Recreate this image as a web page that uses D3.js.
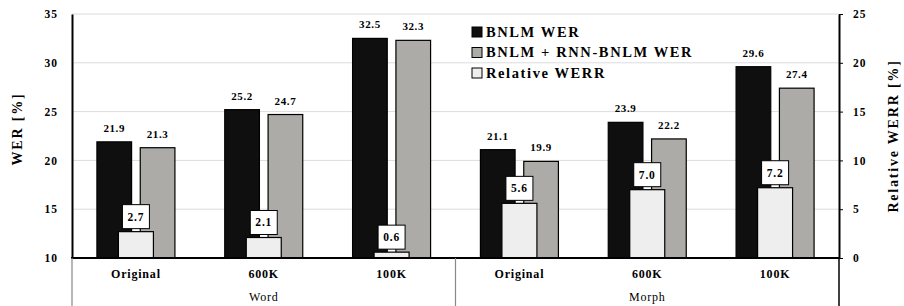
<!DOCTYPE html>
<html>
<head>
<meta charset="utf-8">
<script src="https://cdn.jsdelivr.net/npm/d3@7"></script>
<style>
  body { margin: 0; background: #fff; }
  svg { display: block; font-family: "Liberation Serif", "Times New Roman", serif; font-weight: bold; }
</style>
</head>
<body>
<svg width="904" height="306"></svg>
<script>
const categories = ["Original", "600K", "100K", "Original", "600K", "100K"];
const groups = ["Word", "Morph"];
const bnlmWer = [21.9, 25.2, 32.5, 21.1, 23.9, 29.6];
const rnnWer = [21.3, 24.7, 32.3, 19.9, 22.2, 27.4];
const werr = [2.7, 2.1, 0.6, 5.6, 7.0, 7.2];
const werTicks = [10, 15, 20, 25, 30, 35];
const werrTicks = [0, 5, 10, 15, 20, 25];
const legendLabels = ["BNLM WER", "BNLM + RNN-BNLM WER", "Relative WERR"];

const svg = d3.select("svg");
const width = 904;
const height = 306;
const plotL = 72, plotR = 839, plotT = 14, plotB = 258;

const colors = ["#0f0f0f", "#acaba8", "#eeeeee"];
const FONT = "Liberation Serif";

const x = d3.scaleBand()
  .domain(d3.range(categories.length))
  .range([plotL, plotR]);

const xSub = d3.scaleBand()
  .domain([0, 1])
  .range([-39, 39])
  .paddingInner(0.2);

const y = d3.scaleLinear().domain([10, 35]).range([plotB, plotT]);
const y2 = d3.scaleLinear().domain([0, 25]).range([plotB, plotT]);

// gridlines
svg.append("g")
  .selectAll("line")
  .data(werTicks.slice(1))
  .enter()
  .append("line")
  .attr("x1", plotL)
  .attr("x2", plotR)
  .attr("y1", d => y(d))
  .attr("y2", d => y(d))
  .attr("stroke", "#dcdcdc")
  .attr("stroke-width", 1);

// WER bars
const series = [bnlmWer, rnnWer];
series.forEach((vals, s) => {
  const g = svg.append("g");
  g.selectAll("rect")
    .data(vals)
    .enter()
    .append("rect")
    .attr("x", (d, i) => x(i) + x.bandwidth() / 2 + xSub(s))
    .attr("y", d => y(d))
    .attr("width", xSub.bandwidth())
    .attr("height", d => plotB - y(d))
    .attr("fill", colors[s])
    .attr("stroke", "#000")
    .attr("stroke-width", 1.2);
  g.selectAll("text")
    .data(vals)
    .enter()
    .append("text")
    .attr("x", (d, i) => x(i) + x.bandwidth() / 2 + xSub(s) + xSub.bandwidth() / 2)
    .attr("y", d => y(d) - 10)
    .attr("text-anchor", "middle")
    .attr("font-size", 11)
    .attr("letter-spacing", 0.6)
    .text(d => d.toFixed(1));
});

// relative WERR bars
const werrW = 35;
const wg = svg.append("g");
wg.selectAll("rect")
  .data(werr)
  .enter()
  .append("rect")
  .attr("x", (d, i) => x(i) + x.bandwidth() / 2 - werrW / 2)
  .attr("y", d => y2(d))
  .attr("width", werrW)
  .attr("height", d => plotB - y2(d))
  .attr("fill", colors[2])
  .attr("stroke", "#000")
  .attr("stroke-width", 1.2);

const boxW = 27, boxH = 24;
const lab = wg.selectAll("g.lab")
  .data(werr)
  .enter()
  .append("g")
  .attr("class", "lab")
  .attr("transform", (d, i) => `translate(${x(i) + x.bandwidth() / 2}, ${y2(d) - 3 - boxH / 2})`);
lab.append("rect")
  .attr("x", -boxW / 2)
  .attr("y", -boxH / 2)
  .attr("width", boxW)
  .attr("height", boxH)
  .attr("fill", "#fff")
  .attr("stroke", "#000")
  .attr("stroke-width", 1);
lab.append("text")
  .attr("text-anchor", "middle")
  .attr("dy", "0.34em")
  .attr("font-size", 11.5)
  .attr("letter-spacing", 0.8)
  .text(d => d.toFixed(1));

// axes
const leftAxis = svg.append("g")
  .attr("transform", `translate(${plotL},0)`)
  .call(d3.axisLeft(y).tickValues(werTicks).tickSize(0).tickPadding(14));
leftAxis.select(".domain").attr("stroke", "#000").attr("stroke-width", 2);
leftAxis.selectAll("text")
  .attr("font-size", 11.5).attr("font-family", FONT).attr("font-weight", "bold")
  .attr("letter-spacing", 1);

const rightAxis = svg.append("g")
  .attr("transform", `translate(${plotR},0)`)
  .call(d3.axisRight(y2).tickValues(werrTicks).tickSize(4).tickSizeOuter(0).tickPadding(10));
rightAxis.select(".domain").attr("stroke", "#000").attr("stroke-width", 2);
rightAxis.selectAll("text")
  .attr("font-size", 11.5).attr("font-family", FONT).attr("font-weight", "bold")
  .attr("letter-spacing", 1);

// bottom axis line
svg.append("line")
  .attr("x1", plotL - 1).attr("x2", plotR + 1)
  .attr("y1", plotB).attr("y2", plotB)
  .attr("stroke", "#000").attr("stroke-width", 2);

// category labels
svg.append("g")
  .selectAll("text")
  .data(categories)
  .enter()
  .append("text")
  .attr("x", (d, i) => x(i) + x.bandwidth() / 2)
  .attr("y", 278)
  .attr("text-anchor", "middle")
  .attr("font-size", 12)
  .attr("letter-spacing", 0.8)
  .text(d => d);

// group labels and separators
const per = categories.length / groups.length;
svg.append("g")
  .selectAll("text")
  .data(groups)
  .enter()
  .append("text")
  .attr("x", (d, i) => (x(i * per) + x((i + 1) * per - 1) + x.bandwidth()) / 2)
  .attr("y", 301)
  .attr("text-anchor", "middle")
  .attr("font-size", 12)
  .attr("font-weight", "normal")
  .attr("letter-spacing", 0.8)
  .text(d => d);

svg.append("g")
  .selectAll("line")
  .data(d3.range(groups.length + 1))
  .enter()
  .append("line")
  .attr("x1", i => i < groups.length ? x(i * per) : plotR)
  .attr("x2", i => i < groups.length ? x(i * per) : plotR)
  .attr("y1", plotB)
  .attr("y2", height)
  .attr("stroke", i => i < groups.length ? "#888" : "#000")
  .attr("stroke-width", i => i < groups.length ? 1.2 : 1.5);

// axis titles
svg.append("text")
  .attr("transform", `translate(22,129) rotate(-90)`)
  .attr("text-anchor", "middle")
  .attr("font-size", 14)
  .attr("letter-spacing", 1.8)
  .text("WER [%]");

svg.append("text")
  .attr("transform", `translate(898,136) rotate(-90)`)
  .attr("text-anchor", "middle")
  .attr("font-size", 14)
  .attr("letter-spacing", 1.8)
  .text("Relative WERR [%]");

// legend
const legend = svg.append("g").attr("transform", "translate(472,32)");
const items = legend.selectAll("g")
  .data(legendLabels)
  .enter()
  .append("g")
  .attr("transform", (d, i) => `translate(0, ${i * 20.5})`);
items.append("rect")
  .attr("x", 0).attr("y", -5)
  .attr("width", 10).attr("height", 10)
  .attr("fill", (d, i) => colors[i])
  .attr("stroke", "#000")
  .attr("stroke-width", 1);
items.append("text")
  .attr("x", 14)
  .attr("dy", "0.34em")
  .attr("font-size", 14.5)
  .attr("letter-spacing", 1.6)
  .text(d => d);
</script>
</body>
</html>
